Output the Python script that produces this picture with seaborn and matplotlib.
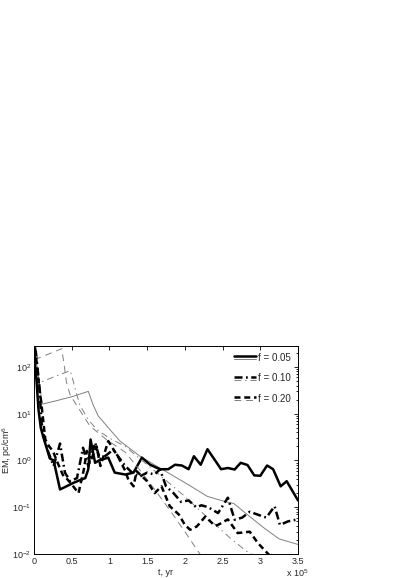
import numpy as np
import pandas as pd
import matplotlib
matplotlib.use("Agg")
import matplotlib.pyplot as plt
import seaborn as sns
from matplotlib.lines import Line2D
from matplotlib.legend_handler import HandlerBase
from matplotlib.ticker import LogLocator, NullFormatter

# time in units of 1e5 yr, EM in pc/cm^6
# simulations (thick black)
t_sim05 = [0, 0.03, 0.06, 0.09, 0.12, 0.17, 0.21, 0.26, 0.345, 0.43, 0.52, 0.61, 0.68, 0.72, 0.75,
           0.81, 0.86, 0.985, 1.07, 1.21, 1.32, 1.43, 1.54, 1.67, 1.78, 1.87, 1.96, 2.05, 2.12,
           2.21, 2.30, 2.48, 2.57, 2.66, 2.74, 2.83, 2.92, 3.0, 3.09, 3.17, 3.27, 3.35, 3.5]
em_sim05 = [600, 60, 12, 5, 3.3, 1.8, 1.1, 1.0, 0.24, 0.28, 0.33, 0.38, 0.42, 0.65, 2.8,
            0.89, 1.0, 1.15, 0.55, 0.5, 0.55, 1.15, 0.81, 0.65, 0.65, 0.81, 0.78, 0.65, 1.23,
            0.81, 1.74, 0.65, 0.69, 0.64, 0.89, 0.8, 0.48, 0.47, 0.78, 0.65, 0.28, 0.36, 0.14]

t_sim10 = [0, 0.04, 0.07, 0.10, 0.14, 0.19, 0.26, 0.345, 0.41, 0.48, 0.57, 0.65, 0.72, 0.81, 0.875,
           0.96, 1.05, 1.21, 1.3, 1.4, 1.5, 1.6, 1.67, 1.75, 1.85, 1.95, 2.05, 2.15, 2.22, 2.31,
           2.44, 2.57, 2.66, 2.76, 2.86, 2.96, 3.08, 3.19, 3.26, 3.37, 3.5]
em_sim10 = [500, 120, 40, 6.5, 2.8, 1.5, 0.76, 2.3, 0.55, 0.36, 0.42, 1.87, 0.76, 2.4, 1.05,
            1.3, 1.7, 0.76, 0.55, 0.45, 0.55, 0.5, 0.65, 0.28, 0.2, 0.13, 0.14, 0.1, 0.11, 0.1,
            0.075, 0.16, 0.054, 0.06, 0.08, 0.07, 0.06, 0.105, 0.042, 0.05, 0.055]

t_sim20 = [0, 0.03, 0.06, 0.10, 0.15, 0.20, 0.25, 0.30, 0.39, 0.44, 0.52, 0.59, 0.66, 0.70, 0.74,
           0.83, 0.88, 0.985, 1.12, 1.21, 1.25, 1.32, 1.36, 1.5, 1.6, 1.69, 1.8, 1.92, 2.0, 2.07,
           2.16, 2.27, 2.4, 2.44, 2.57, 2.70, 2.86, 2.97, 3.1, 3.2]
em_sim20 = [400, 150, 50, 15, 2.8, 2.0, 1.6, 1.0, 0.46, 0.4, 0.28, 0.2, 0.63, 1.6, 0.9,
            2.0, 0.76, 2.6, 1.15, 0.6, 0.39, 0.28, 0.59, 0.36, 0.2, 0.28, 0.105, 0.07, 0.042, 0.033,
            0.039, 0.063, 0.04, 0.042, 0.055, 0.028, 0.03, 0.017, 0.0102, 0.007]

# models (thin gray)
t_mod05 = [0.0, 0.11, 0.3, 0.5, 0.72, 0.78, 0.85, 1.0, 1.14, 1.4, 1.6, 1.8, 2.05, 2.3, 2.55,
           2.65, 2.85, 3.05, 3.25, 3.5]
em_mod05 = [300, 16, 19, 23, 30, 16, 9, 4.7, 2.6, 1.25, 0.8, 0.52, 0.3, 0.17, 0.13,
            0.12, 0.065, 0.036, 0.021, 0.016]

t_mod10 = [0.0, 0.06, 0.25, 0.48, 0.52, 0.56, 0.61, 0.72, 0.83, 1.0, 1.21, 1.4, 1.6, 1.8, 2.0,
           2.2, 2.4, 2.6, 2.8, 2.95, 3.1]
em_mod10 = [300, 45, 60, 83, 50, 28, 15, 7.5, 4.6, 3.0, 2.0, 1.1, 0.6, 0.32, 0.17,
            0.085, 0.043, 0.022, 0.012, 0.0085, 0.005]

t_mod20 = [0.0, 0.04, 0.2, 0.367, 0.40, 0.43, 0.48, 0.566, 0.74, 0.96, 1.21, 1.4, 1.6, 1.8,
           2.0, 2.2, 2.3]
em_mod20 = [300, 150, 190, 245, 110, 47, 25, 15, 5.5, 2.8, 1.5, 0.63, 0.24, 0.087,
            0.03, 0.01, 0.006]

labels = ["f = 0.05", "f = 0.10", "f = 0.20"]
xticks = [0, 0.5, 1, 1.5, 2, 2.5, 3, 3.5]
xticklabels = ['0', '0.5', '1', '1.5', '2', '2.5', '3', '3.5']

sns.set_theme(style="white")
plt.rcParams['font.family'] = ['Liberation Sans', 'DejaVu Sans']
plt.rcParams['mathtext.fontset'] = 'custom'
plt.rcParams['mathtext.rm'] = 'Liberation Sans'
plt.rcParams['mathtext.it'] = 'Liberation Sans'

fig = plt.figure(figsize=(4.09, 5.78), dpi=100)
ax = fig.add_axes([34 / 409, 24 / 578, 264 / 409, 208 / 578])

black_styles = ['-', (0, (3.2, 1.4, 0.7, 1.4)), (0, (2.4, 1.5))]
gray_styles = ['-', (0, (7, 4, 1.5, 4)), (0, (7, 5))]
sims = [(t_sim05, em_sim05), (t_sim10, em_sim10), (t_sim20, em_sim20)]
mods = [(t_mod05, em_mod05), (t_mod10, em_mod10), (t_mod20, em_mod20)]

handles = []
for (ts, es), (tm, emm), bls, gls in zip(sims, mods, black_styles, gray_styles):
    sns.lineplot(x=tm, y=emm, ax=ax, color='#808080', lw=0.7, linestyle=gls, sort=False)
    gray = ax.lines[-1]
    sns.lineplot(x=ts, y=es, ax=ax, color='black', lw=1.8, linestyle=bls, sort=False)
    black = ax.lines[-1]
    handles.append((black, gray))

ax.set_yscale('log')
ax.set_xlim(0, 3.5)
ax.set_ylim(1e-2, 2.8e2)
ax.set_xticks(xticks)
ax.set_xticklabels(xticklabels)
ax.yaxis.set_major_locator(LogLocator(base=10, numticks=10))
ax.yaxis.set_minor_locator(LogLocator(base=10, subs=np.arange(2, 10), numticks=20))
ax.yaxis.set_minor_formatter(NullFormatter())
ax.tick_params(which='both', direction='in', top=True, right=True, labelsize=6.5,
               color='black', width=0.6, pad=2)
ax.tick_params(which='major', length=3)
ax.tick_params(which='minor', length=1.6)
for s in ax.spines.values():
    s.set_color('black')
    s.set_linewidth(0.7)

ax.set_xlabel('t, yr', fontsize=6.5)
ax.xaxis.set_label_coords(0.5, -0.066)
ax.set_ylabel('EM, pc/cm$^6$', fontsize=6.5)
ax.yaxis.set_label_coords(-0.075, 0.5)
ax.text(0.955, -0.09, r'x 10$^5$', transform=ax.transAxes, fontsize=6.5,
        ha='left', va='center')


class TwoLineHandler(HandlerBase):
    def create_artists(self, legend, orig_handle, xdescent, ydescent, width, height,
                       fontsize, trans):
        top, bottom = orig_handle
        y0 = height / 2 - ydescent
        xs = [-xdescent, width - xdescent]
        l1 = Line2D(xs, [y0 + 1.0, y0 + 1.0])
        l1.update_from(top)
        l2 = Line2D(xs, [y0 - 1.2, y0 - 1.2])
        l2.update_from(bottom)
        for l in (l1, l2):
            l.set_transform(trans)
        return [l1, l2]


leg = ax.legend(handles=handles, labels=labels, handler_map={tuple: TwoLineHandler()},
                loc='upper right', frameon=False, fontsize=7, handlelength=2.2,
                handletextpad=0.3, labelspacing=1.1, borderaxespad=0.3)

fig.savefig('out.png', dpi=100)
